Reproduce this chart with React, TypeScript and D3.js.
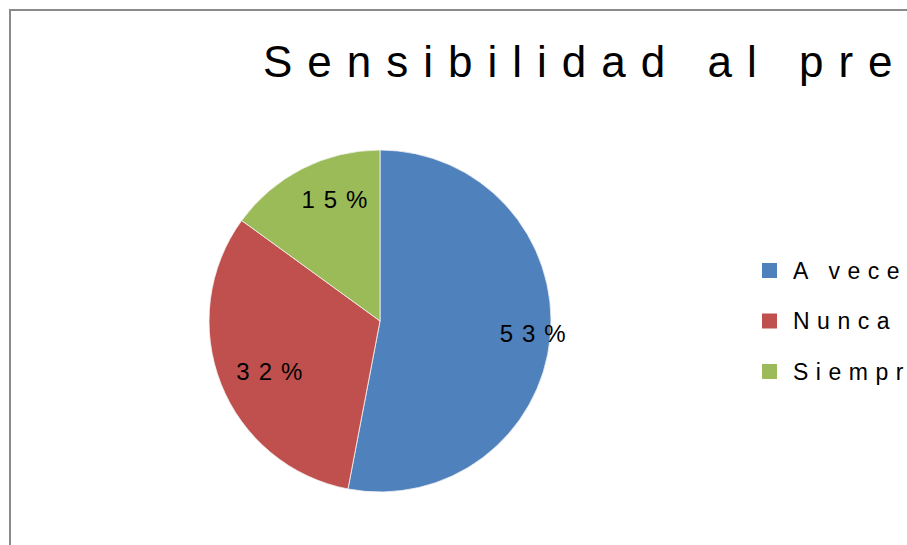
import React, { useEffect, useRef } from 'react';
import * as d3 from 'd3';

const categories = ['A veces', 'Nunca', 'Siempre'];
const values = [53, 32, 15];
const colors = ['#4F81BD', '#C0504D', '#9BBB59'];
const title = 'Sensibilidad al precio';

function App() {
    const ref = useRef<SVGSVGElement | null>(null);

    useEffect(() => {
        const width = 907;
        const height = 545;
        const cx = 380;
        const cy = 321;
        const radius = 171;

        const svg = d3.select(ref.current);
        svg.selectAll('*').remove();
        svg.attr('width', width).attr('height', height);

        // chart area frame (cut off at right/bottom like the original)
        svg.append('rect')
            .attr('x', 10)
            .attr('y', 10)
            .attr('width', 1200)
            .attr('height', 1000)
            .attr('fill', '#fff')
            .attr('stroke', '#8a8a8a')
            .attr('stroke-width', 2);

        svg.append('text')
            .attr('x', 263)
            .attr('y', 77)
            .attr('font-family', 'Liberation Sans, Arial, sans-serif')
            .attr('font-size', 44)
            .attr('letter-spacing', 15)
            .attr('fill', '#000')
            .text(title);

        const data = categories.map((c, i) => ({ label: c, value: values[i] }));
        const total = d3.sum(values);

        const pie = d3.pie<{ label: string; value: number }>()
            .value(d => d.value)
            .sort(null);

        const arc = d3.arc<d3.PieArcDatum<{ label: string; value: number }>>()
            .innerRadius(0)
            .outerRadius(radius);

        const labelArc = d3.arc<d3.PieArcDatum<{ label: string; value: number }>>()
            .innerRadius(radius * 0.8)
            .outerRadius(radius * 0.8);

        const g = svg.append('g').attr('transform', `translate(${cx},${cy})`);
        const arcs = pie(data);

        g.selectAll('path')
            .data(arcs)
            .enter().append('path')
            .attr('d', arc)
            .attr('fill', (d, i) => colors[i])
            .attr('stroke', '#f4f4f4')
            .attr('stroke-width', 0.8);

        g.selectAll('.lbl')
            .data(arcs)
            .enter().append('text')
            .attr('class', 'lbl')
            .attr('x', d => labelArc.centroid(d)[0] + 21)
            .attr('y', d => labelArc.centroid(d)[1])
            .attr('dy', '0.35em')
            .attr('text-anchor', 'middle')
            .attr('font-family', 'Liberation Sans, Arial, sans-serif')
            .attr('font-size', 24)
            .attr('letter-spacing', 9)
            .attr('fill', '#000')
            .text(d => `${Math.round((d.data.value / total) * 100)}%`);

        // legend
        const legend = svg.append('g').attr('transform', 'translate(762,263)');
        const rows = legend.selectAll('g')
            .data(categories)
            .enter().append('g')
            .attr('transform', (d, i) => `translate(0,${i * 50.5})`);

        rows.append('rect')
            .attr('width', 15)
            .attr('height', 15)
            .attr('fill', (d, i) => colors[i]);

        rows.append('text')
            .attr('x', 31)
            .attr('y', 15.5)
            .attr('font-family', 'Liberation Sans, Arial, sans-serif')
            .attr('font-size', 23)
            .attr('letter-spacing', 7.5)
            .attr('fill', '#000')
            .text(d => d);
    }, []);

    return (
        <svg ref={ref} style={{ position: 'absolute', left: 0, top: 0, display: 'block' }}></svg>
    );
}

export default App;
